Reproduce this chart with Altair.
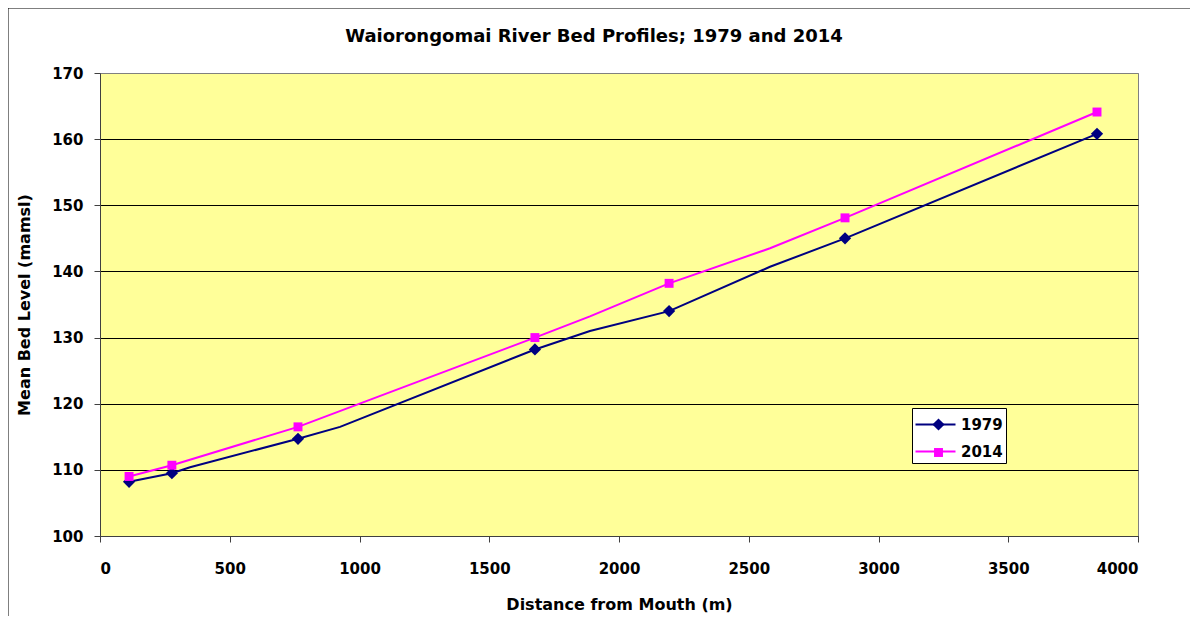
import altair as alt
import pandas as pd

# ---- data ----
dist_1979 = [112, 277, 347, 763, 925, 1676, 1888, 2193, 2582, 2871, 3842]
level_1979 = [108.2, 109.5, 110.4, 114.7, 116.5, 128.2, 131.0, 134.0, 140.7, 145.0, 160.8]
marker_1979 = [1, 1, 0, 1, 0, 1, 0, 1, 0, 1, 1]

dist_2014 = [112, 277, 763, 1676, 1888, 2193, 2582, 2871, 3842]
level_2014 = [109.0, 110.7, 116.5, 130.0, 133.2, 138.2, 143.5, 148.1, 164.1]
marker_2014 = [1, 1, 1, 1, 0, 1, 0, 1, 1]

series_names = ["1979", "2014"]
series_colors = ["#000080", "#FF00FF"]
series_shapes = ["diamond", "square"]
series_sizes = [150, 80]

x_ticks = [0, 500, 1000, 1500, 2000, 2500, 3000, 3500, 4000]
y_ticks = [100, 110, 120, 130, 140, 150, 160, 170]

rows = []
for d, l, m in zip(dist_1979, level_1979, marker_1979):
    rows.append({"dist": d, "level": l, "marker": m, "series": "1979"})
for d, l, m in zip(dist_2014, level_2014, marker_2014):
    rows.append({"dist": d, "level": l, "marker": m, "series": "2014"})
df = pd.DataFrame(rows)

FONT = "DejaVu Sans"

x_enc = alt.X(
    "dist:Q",
    scale=alt.Scale(domain=[0, 4000], nice=False),
    axis=alt.Axis(values=x_ticks, format="d", title="Distance from Mouth (m)", grid=False,
                  tickSize=6, labelPadding=19, titlePadding=20),
)
y_enc = alt.Y(
    "level:Q",
    scale=alt.Scale(domain=[100, 170], nice=False),
    axis=alt.Axis(values=y_ticks, format="d", title="Mean Bed Level (mamsl)", grid=True,
                  gridColor={"condition": {"test": "datum.value >= 170", "value": "#808080"},
                             "value": "#000000"},
                  tickSize=6, labelPadding=11, titlePadding=19),
)

leg_line = alt.Legend(
    orient="none", legendX=812, legendY=335, title=None,
    symbolType="M-1.6,0H1.6", symbolSize=625, symbolStrokeWidth=2,
    symbolOffset=7, labelOffset=12,
    labelFont=FONT, labelFontSize=15, labelFontWeight="bold", labelColor="black",
    fillColor="white", strokeColor="#000000", padding=3, rowPadding=5,
)
leg_pts = alt.Legend(
    orient="none", legendX=828, legendY=341, title=None,
    symbolStrokeWidth=0, symbolOpacity=1,
    labelFont=FONT, labelFontSize=15, labelFontWeight="bold", labelOpacity=0,
    padding=3, rowPadding=12,
)

line = alt.Chart(df).mark_line(strokeWidth=2).encode(
    x=x_enc, y=y_enc,
    stroke=alt.Stroke("series:N", scale=alt.Scale(domain=series_names, range=series_colors),
                      legend=leg_line),
    order="dist:Q",
)

points = alt.Chart(df).transform_filter("datum.marker == 1").mark_point(
    filled=True, opacity=1, strokeWidth=0
).encode(
    x=x_enc, y=y_enc,
    color=alt.Color("series:N", scale=alt.Scale(domain=series_names, range=series_colors),
                    legend=leg_pts),
    shape=alt.Shape("series:N", scale=alt.Scale(domain=series_names, range=series_shapes),
                    legend=leg_pts),
    size=alt.Size("series:N", scale=alt.Scale(domain=series_names, range=series_sizes),
                  legend=leg_pts),
)

frame_src = pd.DataFrame({"k": [0]})
left_border = alt.Chart(frame_src).mark_rule(color="black", strokeWidth=1).encode(
    x=alt.value(-92), y=alt.value(-65), y2=alt.value(1000)
)
top_border = alt.Chart(frame_src).mark_rule(color="black", strokeWidth=1).encode(
    x=alt.value(-92), x2=alt.value(2000), y=alt.value(-65)
)

chart = alt.layer(line, points, left_border, top_border).resolve_scale(
    stroke="independent", color="independent", shape="independent", size="independent"
).properties(
    width=1038, height=463,
    autosize=alt.AutoSizeParams(type="none"),
    padding={"left": 92, "top": 65, "right": 52, "bottom": 80},
    background="white",
    title=alt.TitleParams("Waiorongomai River Bed Profiles; 1979 and 2014",
                          font=FONT, fontSize=18, fontWeight="bold", color="black",
                          baseline="alphabetic", offset=-52, dx=-25, anchor="middle"),
).configure_view(
    fill="#FFFF99", stroke="#808080", strokeWidth=1
).configure_axis(
    domainColor="#404040", tickColor="#404040",
    labelFont=FONT, labelFontSize=15, labelFontWeight="bold", labelColor="black",
    titleFont=FONT, titleFontSize=16, titleFontWeight="bold", titleColor="black",
)

chart.save("out.html", embed_options={"renderer": "svg", "actions": False})
